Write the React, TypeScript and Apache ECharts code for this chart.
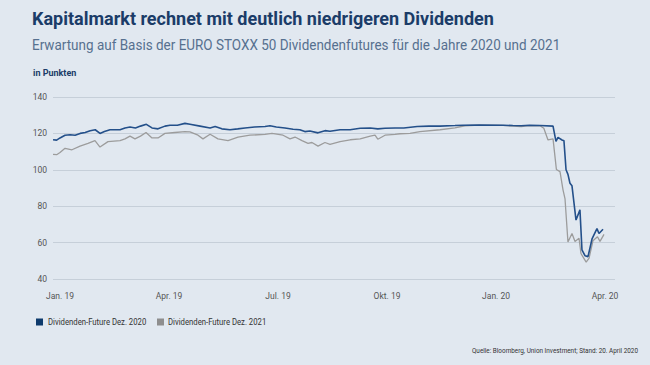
import React, { useEffect, useRef } from "react";
import * as echarts from "echarts";

// x positions in weeks since "Jan. 19" (quarter = 13 weeks)
const weeks2020 = [
  -0.83, -0.4, 0.0, 0.6, 1.2, 1.8, 2.4, 3.0, 3.6, 4.2, 4.77, 5.3, 5.96, 7.16, 7.75, 8.35, 9.0, 9.6, 10.3,
  10.97, 11.69, 12.52, 13.12, 14.0, 14.9, 15.5, 16.7, 17.9, 18.5, 19.3, 20.27, 21.2, 22.06, 23.2, 24.45,
  25.04, 25.8, 26.83, 27.8, 28.6, 29.2, 29.8, 30.77, 31.6, 32.2, 33.4, 34.6, 35.8, 37, 37.9, 38.76, 39.95,
  41, 42.6, 44, 45.32, 47.1, 48.06, 50, 52.83, 54, 55, 56, 57.24, 58.8, 59.15, 59.39, 59.87, 60.1, 60.35,
  60.58, 60.82, 61.06, 61.54, 62.01, 62.25, 62.61, 62.97, 63.45, 64.04, 64.28, 64.76,
];
const values2020 = [
  116.5, 116.3, 117.5, 119, 119.3, 119, 120, 120.5, 121.5, 122, 120, 121, 122, 122, 123, 123.5, 123, 124, 125,
  123, 122.5, 124, 124.5, 124.5, 125.5, 125, 124, 123, 123.8, 122.5, 122, 122.5, 123, 123.5, 123.8,
  124.2, 123.5, 123, 122.3, 122, 121, 121.3, 120.3, 121.5, 121.2, 122, 122, 122.8, 123, 122.5, 122.8, 123,
  123, 123.8, 124, 124, 124.3, 124.5, 124.6, 124.5, 124.3, 124.2, 124.5, 124.3, 124, 115.6, 117.8, 116.4, 116, 100,
  97.5, 92.6, 91.2, 72.4, 78, 56, 52.8, 52.3, 62, 67.7, 65, 67.3,
];

const weeks2021 = [
  -0.83, -0.4, 0.0, 0.6, 1.43, 2.39, 3.34, 4.17, 4.77, 5.72, 7.16, 7.75, 8.35, 8.94, 9.6, 10.26, 10.97,
  11.69, 12.52, 13.7, 14.9, 15.5, 16.46, 17.05, 17.9, 18.84, 20.04, 21.23, 22.66, 24.45, 25.28, 26.6,
  27.43, 28.03, 28.86, 29.58, 30.05, 30.77, 31.6, 32.2, 33.4, 34.6, 35.8, 37, 37.57, 37.9, 38.76, 39.95,
  40.55, 41.74, 42.93, 45.32, 47.1, 48.3, 50, 52.83, 54, 55, 56, 57.24, 57.7, 58.2, 58.8, 59.2, 59.63,
  59.99, 60.23, 60.58, 61.06, 61.42, 61.9, 62.13, 62.75, 63.1, 63.56, 64.1, 64.4, 64.88,
];
const values2021 = [
  108.5, 108.3, 109.5, 111.8, 111, 113, 114.5, 116, 112.5, 115.5, 116, 117, 118.5, 117, 118.5, 120.5, 117.5,
  117.5, 120, 120.5, 121, 120.8, 119, 117, 119.5, 117, 116, 118, 119, 119.5, 120, 119,
  117, 118, 116, 114.5, 115, 113, 115, 114, 115.5, 116.5, 117, 118.5, 119, 116.8, 119, 119.5,
  119.8, 120, 121, 122, 123, 124.2, 124.5, 124.4, 124, 123.8, 124.3, 124.2, 122.8, 116.4, 117, 100.2, 99,
  89, 84, 60.3, 65, 60.6, 62.4, 54, 49.3, 51.5, 61, 63.2, 60.7, 64.5,
];

const yTicks = [40, 60, 80, 100, 120, 140];
const xTickWeeks = [0, 13, 26, 39, 52, 65];
const xTickLabels = ["Jan. 19", "Apr. 19", "Jul. 19", "Okt. 19", "Jan. 20", "Apr. 20"];

const seriesNames = ["Dividenden-Future Dez. 2020", "Dividenden-Future Dez. 2021"];
const legendColors = ["#0d3a6c", "#8e8e8e"];

const FONT = "'Roboto', sans-serif";

export default function App() {
  const ref = useRef<HTMLDivElement>(null);
  useEffect(() => {
    if (!ref.current) return;
    const chart = echarts.init(ref.current, null, { renderer: "svg" });
    const d2020 = weeks2020.map((w, i) => [w, values2020[i]]);
    const d2021 = weeks2021.map((w, i) => [w, values2021[i]]);
    chart.setOption({
      animation: false,
      backgroundColor: "#e1e8f0",
      textStyle: { fontFamily: FONT },
      graphic: [
        {
          type: "text",
          x: 32,
          y: 9,
          style: {
            text: "Kapitalmarkt rechnet mit deutlich niedrigeren Dividenden",
            fill: "#1b3c68",
            font: "bold 18px " + FONT,
          },
        },
        {
          type: "text",
          x: 32,
          y: 37,
          scaleX: 0.9,
          style: {
            text: "Erwartung auf Basis der EURO STOXX 50 Dividendenfutures für die Jahre 2020 und 2021",
            fill: "#56708f",
            font: "15px " + FONT,
          },
        },
        {
          type: "text",
          x: 33,
          y: 68,
          style: { text: "in Punkten", fill: "#1b3c68", font: "bold 9px " + FONT },
        },
        {
          type: "text",
          x: 638,
          y: 351,
          scaleX: 0.85,
          style: {
            text: "Quelle: Bloomberg, Union Investment; Stand: 20. April 2020",
            fill: "#333",
            font: "7.5px " + FONT,
            align: "right",
            verticalAlign: "middle",
          },
        },
        { type: "rect", shape: { x: 36, y: 318.5, width: 7, height: 7 }, style: { fill: legendColors[0] } },
        {
          type: "text",
          x: 48,
          y: 322,
          scaleX: 0.86,
          style: { text: seriesNames[0], fill: "#333", font: "9px " + FONT, verticalAlign: "middle" },
        },
        { type: "rect", shape: { x: 157, y: 318.5, width: 7, height: 7 }, style: { fill: legendColors[1] } },
        {
          type: "text",
          x: 168,
          y: 322,
          scaleX: 0.86,
          style: { text: seriesNames[1], fill: "#333", font: "9px " + FONT, verticalAlign: "middle" },
        },
      ],
      grid: { left: 53, right: 35, top: 97, bottom: 86 },
      xAxis: {
        type: "value",
        min: -0.835,
        max: 66.19,
        splitLine: { show: false },
        axisLine: { show: false },
        axisTick: { show: false },
        axisLabel: {
          customValues: xTickWeeks,
          formatter: (v: number) => {
            const i = xTickWeeks.indexOf(Math.round(v));
            return i >= 0 ? xTickLabels[i] : "";
          },
          color: "#555",
          fontSize: 8.5,
          margin: 12,
          fontFamily: FONT,
        },
      },
      yAxis: {
        type: "value",
        min: yTicks[0],
        max: yTicks[yTicks.length - 1],
        interval: 20,
        axisLine: { show: false },
        axisTick: { show: false },
        splitLine: { lineStyle: { color: "#c6cfd9", width: 1 } },
        axisLabel: { color: "#555", fontSize: 8.5, margin: 6, fontFamily: FONT },
      },
      series: [
        {
          name: seriesNames[1],
          type: "line",
          data: d2021,
          showSymbol: false,
          color: legendColors[1],
          lineStyle: { color: "#9c9c9c", width: 1.3 },
        },
        {
          name: seriesNames[0],
          type: "line",
          data: d2020,
          showSymbol: false,
          color: legendColors[0],
          lineStyle: { color: "#24508a", width: 1.6 },
        },
      ],
    });
    return () => chart.dispose();
  }, []);
  return <div ref={ref} style={{ width: 650, height: 365, position: "absolute", left: 0, top: 0 }} />;
}
